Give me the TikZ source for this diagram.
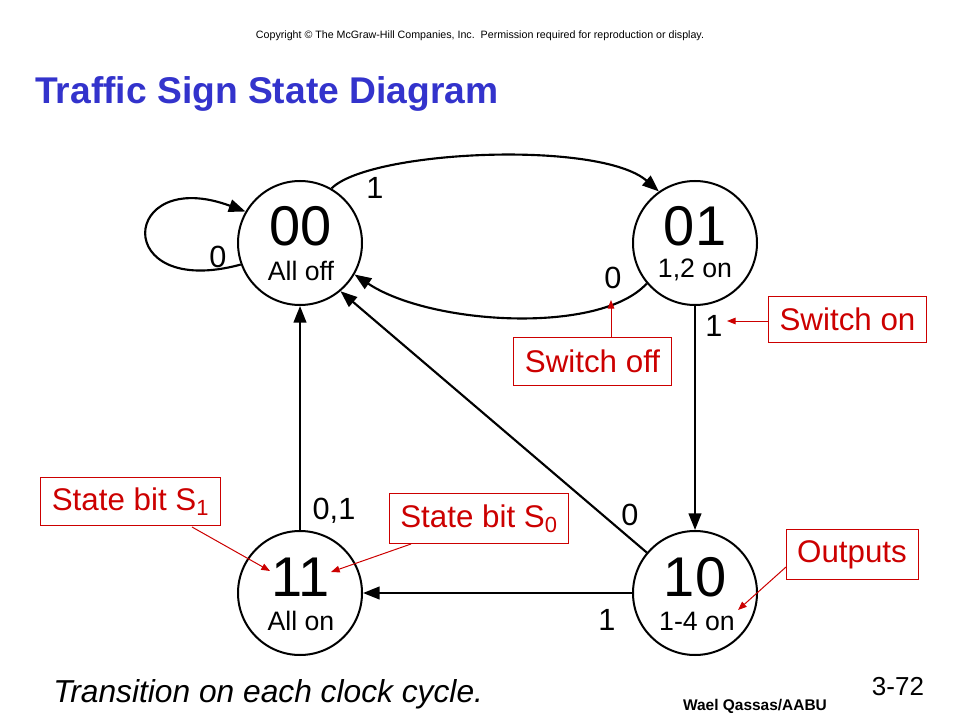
\documentclass[tikz,border=0pt]{standalone}
\usepackage{fontspec}
\setmainfont{Liberation Sans}
\usetikzlibrary{arrows.meta}
\definecolor{titleblue}{RGB}{51,51,204}
\definecolor{calred}{RGB}{204,0,0}
\begin{document}
\begin{tikzpicture}[x=0.75pt,y=-0.75pt,
  state/.style={circle,draw,line width=1.5pt,minimum size=93pt,inner sep=0pt},
  big/.style={font=\fontsize{42}{42}\selectfont,inner sep=0pt},
  sub/.style={font=\fontsize{20}{20}\selectfont,inner sep=0pt},
  lab/.style={font=\fontsize{23}{23}\selectfont,inner sep=0pt},
  callout/.style={draw=calred,line width=0.75pt,text=calred,font=\fontsize{23.5}{24}\selectfont,inner sep=0pt},
  trans/.style={line width=1.6pt,-{Triangle[length=12.5pt,width=9.5pt]}},
  note/.style={calred,line width=0.75pt,-{Triangle[length=6.5pt,width=5pt]}}
]
\useasboundingbox[fill=white] (0,0) rectangle (960,720);

% header texts
\node[inner sep=0pt,font=\fontsize{8}{9}\selectfont] (copy) at (480,36) {Copyright \textcopyright{} The McGraw-Hill Companies, Inc.\ \ Permission required for reproduction or display.};
\node[inner sep=0pt,anchor=west,text=titleblue,font=\bfseries\fontsize{27.9}{28}\selectfont] (title) at (35,94) {Traffic Sign State Diagram};

% states
\node[state] (s00) at (300,243) {};
\node[state] (s01) at (695,243) {};
\node[state] (s11) at (300,593) {};
\node[state] (s10) at (695,593) {};

\node[big] (t00) at (301,226) {00};
\node[sub] (u00) at (301,271) {All off};
\node[big] (t01) at (695,226) {01};
\node[sub] (u01) at (695,270) {1,2 on};
\node[big] (t11) at (301,577) {11};
\node[sub] (u11) at (301,621) {All on};
\node[big] (t10) at (695,577) {10};
\node[sub] (u10) at (697,621) {1-4 on};

% transitions
\draw[trans] (s00.200) .. controls (110,300) and (120,165) .. (s00.150);
\draw[trans] (s00.60) .. controls (370,150) and (600,140) .. (s01.125);
\draw[trans] (s01.220) .. controls (600,335) and (430,325) .. (s00.-30);
\draw[trans] (s10.140) -- (s00.-50);
\draw[trans] (s11) -- (s00);
\draw[trans] (s01) -- (s10);
\draw[trans] (s10) -- (s11);

% transition labels
\node[lab] (la) at (375,188) {1};
\node[lab] (lb) at (218,257) {0};
\node[lab] (lc) at (613,278) {0};
\node[lab] (ld) at (714,326) {1};
\node[lab] (le) at (334,511) {0,1};
\node[lab] (lf) at (630,515) {0};
\node[lab] (lg) at (607,620) {1};

% callouts
\node[callout,minimum width=119pt,minimum height=35pt] (con) at (847.5,319.5) {Switch on};
\node[callout,minimum width=119pt,minimum height=36pt] (coff) at (592.5,361.5) {Switch off};
\node[callout,minimum width=135pt,minimum height=36.5pt] (cs1) at (130.5,501.5) {State bit S\textsubscript{1}};
\node[callout,minimum width=134.5pt,minimum height=37pt] (cs0) at (479,518.5) {State bit S\textsubscript{0}};
\node[callout,minimum width=99pt,minimum height=37pt] (cout) at (852,554.5) {Outputs};

\coordinate (pon) at (727,321);
\coordinate (poff) at (611,300);
\coordinate (ps1) at (270,571);
\coordinate (ps0) at (331,572);
\coordinate (pout) at (738,610);

\draw[note] (con.west |- pon) -- (pon);
\draw[note] (coff.north -| poff) -- (poff);
\draw[note] (192,527) -- (ps1);
\draw[note] (411,544) -- (ps0);
\draw[note] (786,567) -- (pout);

% footer
\node[inner sep=0pt,anchor=west,font=\itshape\fontsize{23.8}{24}\selectfont] (foot) at (53,694) {Transition on each clock cycle.};
\node[inner sep=0pt,font=\fontsize{19.5}{20}\selectfont] (page) at (898,687) {3-72};
\node[inner sep=0pt,font=\bfseries\fontsize{11.6}{12}\selectfont] (auth) at (755,706) {Wael Qassas/AABU};
\end{tikzpicture}
\end{document}
